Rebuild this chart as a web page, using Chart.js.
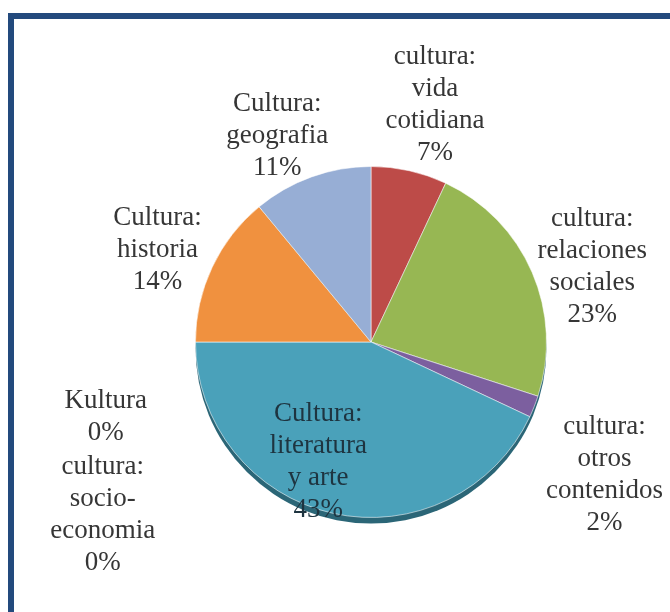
<!DOCTYPE html>
<html>
<head>
<meta charset="utf-8">
<script src="https://cdn.jsdelivr.net/npm/chart.js@4.4.1/dist/chart.umd.min.js"></script>
<style>
  html, body { margin: 0; padding: 0; background: #fff; }
  #wrap { position: relative; width: 670px; height: 612px; overflow: hidden; }
  #frame {
    position: absolute; left: 8px; top: 13px; width: 700px; height: 650px;
    border-left: 6px solid #234a7d; border-top: 6px solid #234a7d;
  }
  canvas { position: absolute; left: 0; top: 0; }
</style>
</head>
<body>
<div id="wrap">
  <div id="frame"></div>
  <canvas id="myChart" width="670" height="612"></canvas>
</div>
<script>
const categories = [
  ['cultura:', 'vida', 'cotidiana'],
  ['cultura:', 'relaciones', 'sociales'],
  ['cultura:', 'otros', 'contenidos'],
  ['Cultura:', 'literatura', 'y arte'],
  ['Kultura'],
  ['cultura:', 'socio-', 'economia'],
  ['Cultura:', 'historia'],
  ['Cultura:', 'geografia'],
]
const values = [7, 23, 2, 43, 0, 0, 14, 11]
const percentLabels = ['7%', '23%', '2%', '43%', '0%', '0%', '14%', '11%']
const colors = ['#bd4b48', '#97b753', '#7c5f9f', '#4aa1ba', '#4f81bd', '#c0504d', '#f0913f', '#97aed5']

// label block centers, in units of the pie radius from the pie center
const labelOffsets = [
  [0.364, -1.352],
  [1.261, -0.426],
  [1.33, 0.756],
  [-0.301, 0.682],
  [-1.511, 0.429],
  [-1.528, 0.983],
  [-1.216, -0.523],
  [-0.534, -1.176],
]

const pieLabels = {
  id: 'pieLabels',
  beforeDatasetsDraw(chart) {
    // dark rim under the pie, like the 3d edge
    const arc = chart.getDatasetMeta(0).data[0]
    const ctx = chart.ctx
    ctx.save()
    ctx.fillStyle = '#2b6677'
    ctx.beginPath()
    ctx.arc(arc.x, arc.y + 6, arc.outerRadius, 0, Math.PI * 2)
    ctx.fill()
    ctx.restore()
  },
  afterDatasetsDraw(chart) {
    const ctx = chart.ctx
    const meta = chart.getDatasetMeta(0)
    ctx.save()
    ctx.font = '27px "Liberation Serif", "Times New Roman", serif'
    ctx.textAlign = 'center'
    ctx.textBaseline = 'middle'
    meta.data.forEach((arc, i) => {
      const lines = categories[i].concat([percentLabels[i]])
      const x = arc.x + arc.outerRadius * labelOffsets[i][0]
      const y = arc.y + arc.outerRadius * labelOffsets[i][1]
      const lh = 32
      ctx.fillStyle = i === 3 ? '#1e3440' : '#363636'
      lines.forEach((line, j) => {
        ctx.fillText(line, x, y + (j - (lines.length - 1) / 2) * lh)
      })
    })
    ctx.restore()
  },
}

const ctx = document.getElementById('myChart').getContext('2d')
const chart = new Chart(ctx, {
  type: 'pie',
  data: {
    labels: categories.map((c) => c.join(' ')),
    datasets: [
      {
        data: values,
        backgroundColor: colors,
        borderColor: 'rgba(255,255,255,0.55)',
        borderWidth: 1,
      },
    ],
  },
  options: {
    responsive: false,
    animation: false,
    layout: { padding: { left: 195, right: 123, top: 166, bottom: 94 } },
    plugins: {
      legend: { display: false },
      tooltip: { enabled: false },
    },
  },
  plugins: [pieLabels],
})
</script>
</body>
</html>
